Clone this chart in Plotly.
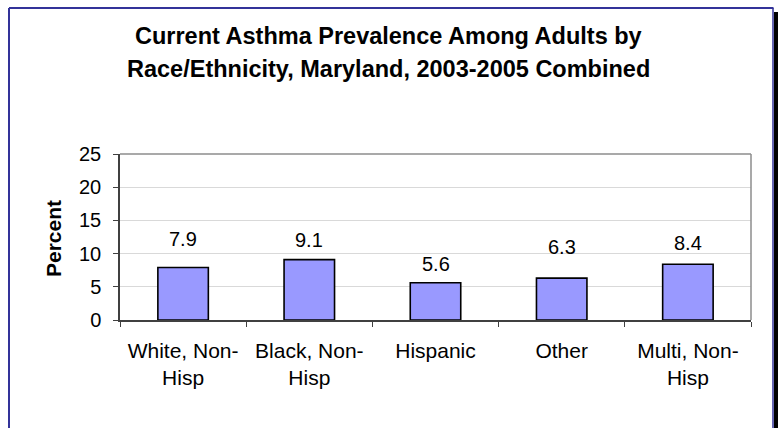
import plotly.graph_objects as go

# Current asthma prevalence among adults by race/ethnicity (Maryland, 2003-2005)
categories = ["White, Non-Hisp", "Black, Non-Hisp", "Hispanic", "Other", "Multi, Non-Hisp"]
tick_labels = ["White, Non-<br>Hisp", "Black, Non-<br>Hisp", "Hispanic", "Other", "Multi, Non-<br>Hisp"]
prevalence = [7.9, 9.1, 5.6, 6.3, 8.4]
y_ticks = [0, 5, 10, 15, 20, 25]

# extra lift (px) for individual value labels
label_lift = [10, 1, 0, 12, 2]

W, H = 778, 428
PLOT_L, PLOT_R, PLOT_T, PLOT_B = 120, 751, 154, 320
FONT = "Arial, Liberation Sans, sans-serif"


def px_x(px):
    return (px - PLOT_L) / (PLOT_R - PLOT_L)


def px_y(py):
    return (PLOT_B - py) / (PLOT_B - PLOT_T)


fig = go.Figure()
fig.add_trace(go.Bar(
    x=categories,
    y=prevalence,
    marker=dict(color="#9999FF", line=dict(color="#000000", width=1.6)),
    width=0.4,
    hoverinfo="x+y",
))

annotations = []
# value labels above each bar
for cat, val, lift in zip(categories, prevalence, label_lift):
    annotations.append(dict(
        x=cat, y=val, xref="x", yref="y", text=f"{val:.1f}",
        showarrow=False, yanchor="bottom", yshift=6 + lift,
        font=dict(family=FONT, size=20, color="#000000"),
    ))

# two-line chart title
title_lines = ["Current Asthma Prevalence Among Adults by",
               "Race/Ethnicity, Maryland, 2003-2005 Combined"]
for line, py in zip(title_lines, [36, 69]):
    annotations.append(dict(
        x=px_x(388), y=px_y(py), xref="paper", yref="paper", text=f"<b>{line}</b>",
        showarrow=False, xanchor="center", yanchor="middle",
        font=dict(family=FONT, size=23.5, color="#000000"),
    ))

# y axis title
annotations.append(dict(
    x=px_x(53), y=px_y(239), xref="paper", yref="paper", text="<b>Percent</b>",
    showarrow=False, xanchor="center", yanchor="middle", textangle=-90,
    font=dict(family=FONT, size=21, color="#000000"),
))

shapes = [
    # plot-area border (top and right)
    dict(type="line", xref="paper", yref="paper", x0=0, x1=1, y0=1, y1=1,
         line=dict(color="#8c8c8c", width=1.5)),
    dict(type="line", xref="paper", yref="paper", x0=1, x1=1, y0=0, y1=1,
         line=dict(color="#8c8c8c", width=1.5)),
    # outer chart frame with drop shadow
    dict(type="rect", xref="paper", yref="paper",
         x0=px_x(774), x1=px_x(779), y0=px_y(432), y1=px_y(12),
         line=dict(width=0), fillcolor="#000000", layer="above"),
    dict(type="line", xref="paper", yref="paper",
         x0=px_x(9), x1=px_x(9), y0=px_y(8), y1=px_y(432),
         line=dict(color="#333399", width=2)),
    dict(type="line", xref="paper", yref="paper",
         x0=px_x(9), x1=px_x(773.5), y0=px_y(8), y1=px_y(8),
         line=dict(color="#333399", width=2)),
    dict(type="line", xref="paper", yref="paper",
         x0=px_x(773), x1=px_x(773), y0=px_y(8), y1=px_y(432),
         line=dict(color="#333399", width=1.5)),
]

fig.update_layout(
    width=W, height=H, autosize=False,
    margin=dict(l=PLOT_L, r=W - PLOT_R, t=PLOT_T, b=H - PLOT_B, pad=0),
    paper_bgcolor="#ffffff", plot_bgcolor="#ffffff",
    showlegend=False,
    annotations=annotations,
    shapes=shapes,
    font=dict(family=FONT, color="#000000"),
    xaxis=dict(
        type="category",
        tickmode="array", tickvals=categories, ticktext=tick_labels,
        tickson="boundaries", ticks="outside", ticklen=5, tickcolor="#404040",
        showline=True, linecolor="#404040", linewidth=1.5,
        showgrid=False, zeroline=False,
        tickfont=dict(family=FONT, size=21, color="#000000"),
        ticklabelstandoff=11,
        range=[-0.5, len(categories) - 0.5],
    ),
    yaxis=dict(
        range=[0, 25], tickmode="array", tickvals=y_ticks,
        ticks="outside", ticklen=5, tickcolor="#404040",
        showline=True, linecolor="#404040", linewidth=1.5,
        showgrid=True, gridcolor="#d9d9d9", gridwidth=1, zeroline=False,
        tickfont=dict(family=FONT, size=20, color="#000000"),
        ticklabelstandoff=8,
    ),
)

fig.write_html("out.html")
